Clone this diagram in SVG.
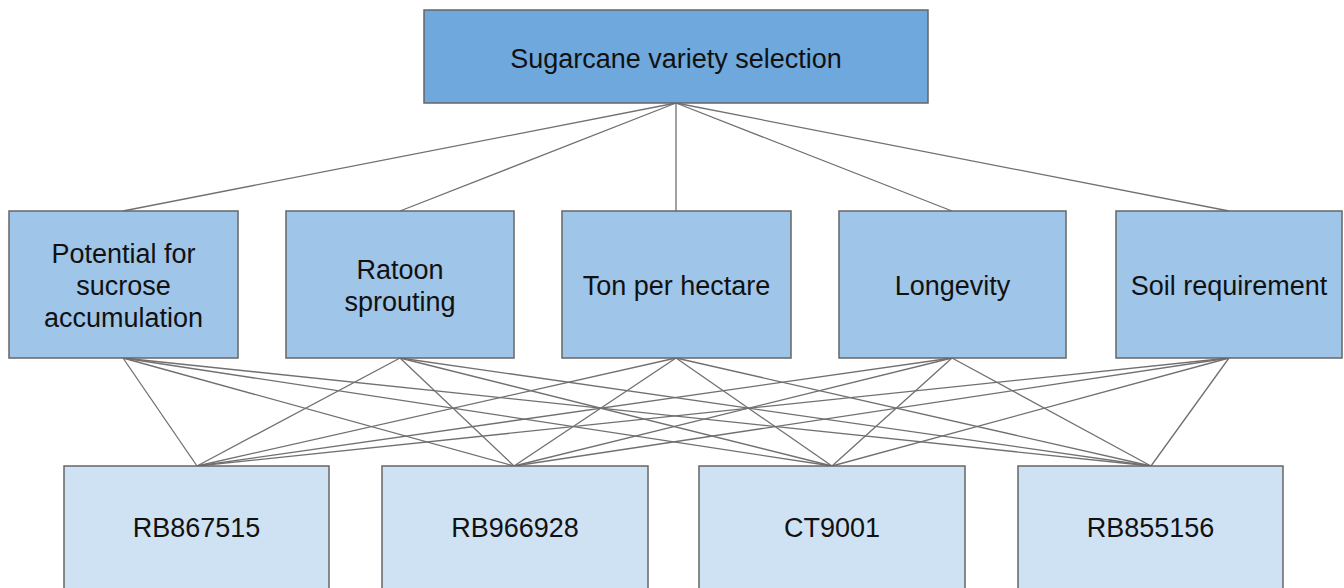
<svg xmlns="http://www.w3.org/2000/svg" width="1344" height="588" viewBox="0 0 1344 588">
<style>
.box{stroke:#666;stroke-width:1.5}
.l1{fill:#6fa8dc}.l2{fill:#9fc5e8}.l3{fill:#cfe2f3}
text{font-family:"Liberation Sans",Arial,sans-serif;font-size:27px;fill:#111;text-anchor:middle}
#connectors line{stroke:#707070;stroke-width:1.3}
</style>
<rect width="1344" height="588" fill="#fff"/>
<g id="connectors">
<line x1="676" y1="103" x2="123" y2="211"/>
<line x1="676" y1="103" x2="400" y2="211"/>
<line x1="676" y1="103" x2="676" y2="211"/>
<line x1="676" y1="103" x2="952" y2="211"/>
<line x1="676" y1="103" x2="1229" y2="211"/>
<line x1="123" y1="358" x2="197" y2="466"/><line x1="123" y1="358" x2="514" y2="466"/><line x1="123" y1="358" x2="832" y2="466"/><line x1="123" y1="358" x2="1151" y2="466"/>
<line x1="400" y1="358" x2="197" y2="466"/><line x1="400" y1="358" x2="514" y2="466"/><line x1="400" y1="358" x2="832" y2="466"/><line x1="400" y1="358" x2="1151" y2="466"/>
<line x1="676" y1="358" x2="197" y2="466"/><line x1="676" y1="358" x2="514" y2="466"/><line x1="676" y1="358" x2="832" y2="466"/><line x1="676" y1="358" x2="1151" y2="466"/>
<line x1="952" y1="358" x2="197" y2="466"/><line x1="952" y1="358" x2="514" y2="466"/><line x1="952" y1="358" x2="832" y2="466"/><line x1="952" y1="358" x2="1151" y2="466"/>
<line x1="1229" y1="358" x2="197" y2="466"/><line x1="1229" y1="358" x2="514" y2="466"/><line x1="1229" y1="358" x2="832" y2="466"/><line x1="1229" y1="358" x2="1151" y2="466"/>
</g>
<g id="root"><rect class="box l1" x="424" y="10" width="504" height="93"/><text x="676" y="68">Sugarcane variety selection</text></g>
<g id="c1"><rect class="box l2" x="9" y="211" width="229" height="147"/><text x="123.5" y="263">Potential for</text><text x="123.5" y="295">sucrose</text><text x="123.5" y="327">accumulation</text></g>
<g id="c2"><rect class="box l2" x="286" y="211" width="228" height="147"/><text x="400" y="279">Ratoon</text><text x="400" y="311">sprouting</text></g>
<g id="c3"><rect class="box l2" x="562" y="211" width="229" height="147"/><text x="676.5" y="295">Ton per hectare</text></g>
<g id="c4"><rect class="box l2" x="839" y="211" width="227" height="147"/><text x="952.5" y="295">Longevity</text></g>
<g id="c5"><rect class="box l2" x="1116" y="211" width="226" height="147"/><text x="1229" y="295">Soil requirement</text></g>
<g id="v1"><rect class="box l3" x="64" y="466" width="265" height="140"/><text x="196.5" y="537">RB867515</text></g>
<g id="v2"><rect class="box l3" x="382" y="466" width="266" height="140"/><text x="515" y="537">RB966928</text></g>
<g id="v3"><rect class="box l3" x="699" y="466" width="266" height="140"/><text x="832" y="537">CT9001</text></g>
<g id="v4"><rect class="box l3" x="1018" y="466" width="265" height="140"/><text x="1150.5" y="537">RB855156</text></g>
</svg>
